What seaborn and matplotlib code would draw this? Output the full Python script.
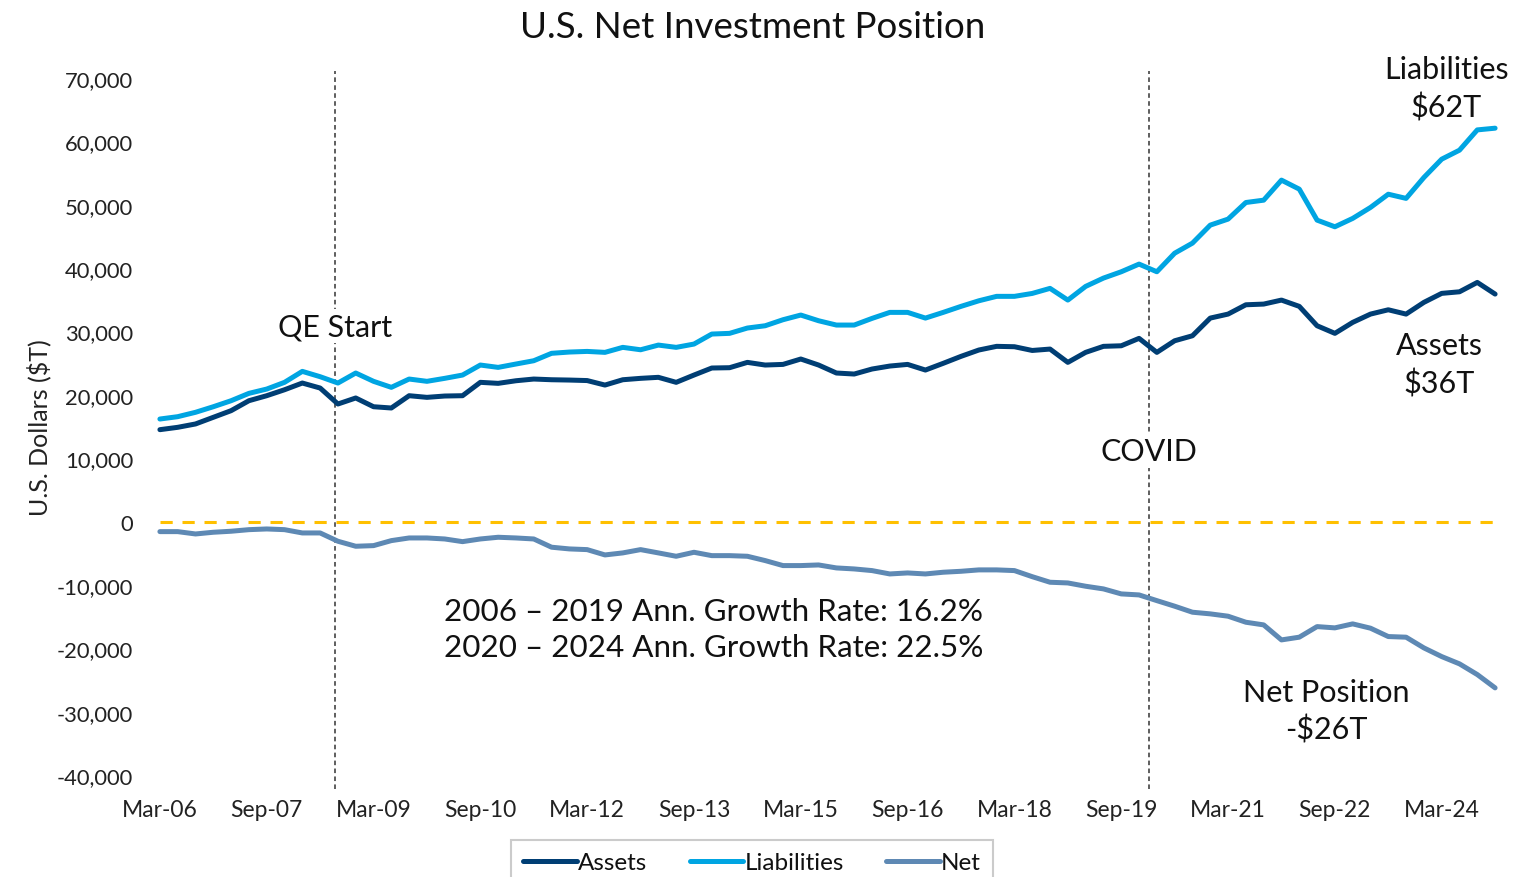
import numpy as np
import pandas as pd
import matplotlib
matplotlib.use("Agg")
import matplotlib.pyplot as plt
import seaborn as sns

# ---------------- data ----------------
quarters = pd.period_range("2006Q1", "2024Q4", freq="Q")
quarter_labels = [q.to_timestamp(how="end").strftime("%b-%y") for q in quarters]

assets = [14500, 14870, 15400, 16450, 17500, 19070, 19860, 20800, 21860, 21070,
          18550, 19500, 18120, 17920, 19860, 19600, 19810, 19860, 21970, 21810,
          22220, 22490, 22380, 22330, 22250, 21540, 22380, 22600, 22760, 21970,
          23120, 24230, 24280, 25120, 24700, 24800, 25650, 24700, 23440, 23280,
          24070, 24540, 24800, 23910, 24970, 26070, 27070, 27650, 27590, 27000,
          27220, 25120, 26700, 27650, 27740, 28910, 26700, 28530, 29320, 32110,
          32740, 34210, 34320, 34950, 33960, 30900, 29700, 31430, 32740, 33420,
          32740, 34590, 36010, 36260, 37740, 35900]

liabilities = [16180, 16550, 17240, 18120, 19070, 20230, 20910, 21970, 23700, 22860,
               21860, 23440, 22130, 21180, 22490, 22130, 22600, 23120, 24700, 24330,
               24860, 25380, 26550, 26750, 26850, 26700, 27490, 27110, 27850, 27490,
               28010, 29590, 29700, 30540, 30900, 31850, 32590, 31690, 31010, 31010,
               32060, 33010, 33010, 32110, 33010, 33960, 34840, 35540, 35540, 36000,
               36800, 34950, 37110, 38420, 39420, 40630, 39420, 42350, 43940, 46780,
               47730, 50350, 50720, 53880, 52460, 47570, 46520, 47840, 49570, 51660,
               51000, 54300, 57190, 58610, 61810, 62080]

net = [-1590, -1590, -1960, -1690, -1530, -1280, -1170, -1280, -1800, -1800,
       -3110, -3900, -3800, -3010, -2590, -2590, -2750, -3170, -2750, -2480,
       -2590, -2750, -4050, -4320, -4430, -5270, -4950, -4430, -4950, -5480,
       -4850, -5380, -5380, -5480, -6160, -6950, -6950, -6850, -7320, -7480,
       -7740, -8270, -8110, -8270, -8000, -7850, -7630, -7630, -7740, -8700,
       -9580, -9690, -10210, -10630, -11420, -11580, -12480, -13360, -14310, -14570,
       -14940, -15890, -16310, -18680, -18250, -16580, -16780, -16150, -16830, -18150,
       -18250, -19940, -21310, -22460, -24150, -26250]

series_names = ["Assets", "Liabilities", "Net"]
series_colors = ["#003E74", "#00A5E2", "#5E89B4"]
y_ticks = list(range(-40000, 70001, 10000))

# ---------------- figure ----------------
sns.set_theme(style="white")
plt.rcParams["font.family"] = ["Lato", "DejaVu Sans"]

fig = plt.figure(figsize=(15.2, 8.78), dpi=100)
ax = fig.add_axes([151 / 1520, 1 - 776 / 878, (1504 - 151) / 1520, (776 - 79) / 878])

idx = np.arange(len(quarter_labels))
df = pd.DataFrame({"i": np.tile(idx, 3),
                   "value": assets + liabilities + net,
                   "series": np.repeat(series_names, len(idx))})

for name, color in zip(series_names, series_colors):
    sns.lineplot(data=df[df["series"] == name], x="i", y="value", ax=ax,
                 color=color, linewidth=3.6, label=name,
                 solid_capstyle="round", solid_joinstyle="round", zorder=3)

# zero reference line
ax.plot([idx[0], idx[-1]], [0, 0], color="#FFC000", lw=2.2,
        dashes=(4, 3.2), zorder=2)

# event lines
for xv in (9.85, 55.55):
    ax.axvline(xv, ymin=-0.02, ymax=1.01, color="#333333", lw=1.1,
               dashes=(3, 2.2), clip_on=False, zorder=1)

ax.set_xlim(-0.5, len(idx) - 0.5)
ax.set_ylim(-40000, 70000)
ax.set_yticks(y_ticks)
ax.set_yticklabels([f"{v:,}" for v in y_ticks], fontsize=15.8, color="#222222")
tick_pos = idx[::6]
ax.set_xticks(tick_pos)
ax.set_xticklabels([quarter_labels[i] for i in tick_pos], fontsize=16.5, color="#222222")
ax.tick_params(axis="x", length=0, pad=17)
ax.tick_params(axis="y", length=0, pad=13)
for s in ax.spines.values():
    s.set_visible(False)
ax.set_xlabel("")
ax.set_ylabel("U.S. Dollars ($T)", fontsize=18, color="#222222", labelpad=4)

fig.text(753 / 1520, 1 - 27 / 878, "U.S. Net Investment Position",
         ha="center", va="center", fontsize=26.5, color="#111111")

box = dict(facecolor="white", edgecolor="none", pad=2)
ax.text(9.85, 30850, "QE Start", ha="center", va="center", fontsize=22,
        color="#111111", bbox=box, zorder=4)
ax.text(55.55, 11140, "COVID", ha="center", va="center", fontsize=22,
        color="#111111", bbox=box, zorder=4)
ax.text(72.25, 68390, "Liabilities\n$62T", ha="center", va="center", fontsize=22,
        color="#111111", linespacing=1.38, zorder=4)
ax.text(71.85, 24860, "Assets\n$36T", ha="center", va="center", fontsize=22,
        color="#111111", linespacing=1.38, zorder=4)
ax.text(65.5, -29870, "Net Position\n-$26T", ha="center", va="center", fontsize=22,
        color="#111111", linespacing=1.38, zorder=4)
ax.text(31.1, -16940,
        "2006 \u2013 2019 Ann. Growth Rate: 16.2%\n2020 \u2013 2024 Ann. Growth Rate: 22.5%",
        ha="center", va="center", fontsize=22.6, color="#111111", linespacing=1.38, zorder=4)

handles = ax.get_lines()[:3]
leg = fig.legend(handles, series_names, loc="upper center",
                 bbox_to_anchor=(752 / 1520, 1 - 829 / 878), ncol=3,
                 fontsize=17.5, frameon=True, fancybox=False, edgecolor="#BFBFBF",
                 handlelength=2.2, handletextpad=0.05, columnspacing=1.75,
                 borderpad=0.5)
leg.get_frame().set_linewidth(1.5)
for t in leg.get_texts():
    t.set_color("#111111")
if ax.get_legend() is not None:
    ax.get_legend().remove()

fig.savefig("out.png", dpi=100)
